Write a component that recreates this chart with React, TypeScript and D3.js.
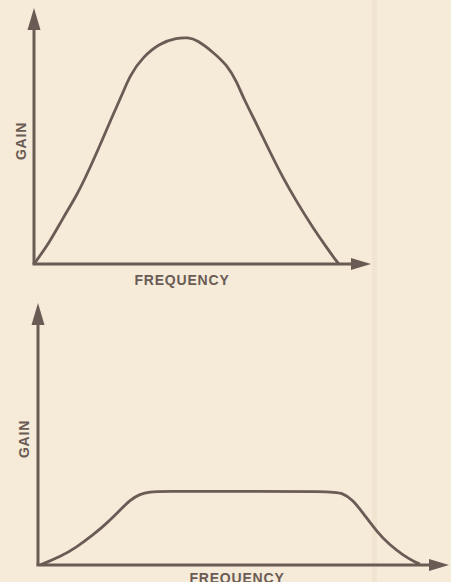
import { useEffect, useRef } from "react";
import * as d3 from "d3";

// band-pass response (top)
const peakFreq = [0, 4.7, 8.6, 12.8, 16.6, 20.5, 23.4, 26.1, 28.5, 32.3, 37.4, 42.4, 45.7, 48.4, 53.1, 57.3, 60.2, 62.0, 66.2, 70.0, 73.9, 78.0, 82.8, 86.9, 89.9, 90.5];
const peakGain = [0, 8.6, 18.0, 27.0, 37.5, 49.2, 58.2, 66.0, 73.8, 80.9, 86.3, 88.3, 88.5, 87.5, 82.8, 77.7, 71.1, 65.2, 54.3, 43.8, 33.6, 24.2, 14.1, 6.3, 0.8, 0];

// flat response (bottom)
const flatFreq = [0.5, 5.4, 9.5, 13.4, 16.8, 20.0, 22.4, 24.8, 27.3, 29.7, 49.1, 71.0, 74.2, 76.6, 79.1, 82.5, 85.6, 88.8, 91.7, 92.9];
const flatGain = [0, 3.1, 6.9, 11.5, 16.0, 21.0, 24.8, 27.1, 27.9, 28.1, 28.1, 28.1, 27.5, 24.8, 19.8, 12.6, 7.6, 3.8, 1.1, 0.4];

const xLabel = "FREQUENCY";
const yLabel = "GAIN";

const W = 451;
const H = 582;
const ink = "#6a5c54";
const paper = "#f6ead9";

type Panel = {
  freq: number[];
  gain: number[];
  x0: number; x1: number;
  y0: number; y1: number;
  gainLabelX: number;
  freqLabelX: number;
  freqLabelY: number;
};

const panels: Panel[] = [
  { freq: peakFreq, gain: peakGain, x0: 34, x1: 371, y0: 264, y1: 8, gainLabelX: 26, freqLabelX: 182, freqLabelY: 285 },
  { freq: flatFreq, gain: flatGain, x0: 38, x1: 449, y0: 565, y1: 303, gainLabelX: 29, freqLabelX: 237, freqLabelY: 583 },
];

export default function App() {
  const ref = useRef<SVGSVGElement>(null);

  useEffect(() => {
    const svg = d3.select(ref.current);
    svg.selectAll("*").remove();

    svg.append("rect").attr("width", W).attr("height", H).attr("fill", paper);
    // page fold
    svg.append("rect").attr("x", 372).attr("y", 0).attr("width", 5).attr("height", H).attr("fill", "#f1e4d1");

    panels.forEach(p => {
      const x = d3.scaleLinear().domain([0, 100]).range([p.x0, p.x1]);
      const y = d3.scaleLinear().domain([0, 100]).range([p.y0, p.y1]);
      const g = svg.append("g");

      // axes
      g.append("line")
        .attr("x1", x(0)).attr("y1", y(0))
        .attr("x2", x(0)).attr("y2", y(100) + 18)
        .attr("stroke", ink).attr("stroke-width", 3);
      g.append("path")
        .attr("d", `M${x(0)},${y(100)} L${x(0) - 6.5},${y(100) + 22} L${x(0) + 6.5},${y(100) + 22} Z`)
        .attr("fill", ink);
      g.append("line")
        .attr("x1", x(0) - 1.5).attr("y1", y(0))
        .attr("x2", x(100) - 18).attr("y2", y(0))
        .attr("stroke", ink).attr("stroke-width", 3);
      g.append("path")
        .attr("d", `M${x(100)},${y(0)} L${x(100) - 20},${y(0) - 6} L${x(100) - 20},${y(0) + 6} Z`)
        .attr("fill", ink);

      // curve
      const pts = p.freq.map((f, i) => [f, p.gain[i]] as [number, number]);
      const line = d3.line<[number, number]>()
        .x(d => x(d[0]))
        .y(d => y(d[1]))
        .curve(d3.curveBasis);
      g.append("path")
        .datum(pts)
        .attr("d", line)
        .attr("fill", "none")
        .attr("stroke", ink)
        .attr("stroke-width", 2.8)
        .attr("stroke-linejoin", "round");

      // labels
      const midY = (p.y0 + p.y1) / 2 + 5;
      g.append("text")
        .attr("transform", `translate(${p.gainLabelX},${midY}) rotate(-90)`)
        .attr("text-anchor", "middle")
        .attr("font-family", "'Liberation Sans', Arial, sans-serif")
        .attr("font-weight", "bold")
        .attr("font-size", 14)
        .attr("letter-spacing", 0.8)
        .attr("fill", ink)
        .text(yLabel);
      g.append("text")
        .attr("x", p.freqLabelX)
        .attr("y", p.freqLabelY)
        .attr("text-anchor", "middle")
        .attr("font-family", "'Liberation Sans', Arial, sans-serif")
        .attr("font-weight", "bold")
        .attr("font-size", 14)
        .attr("letter-spacing", 0.8)
        .attr("fill", ink)
        .text(xLabel);
    });
  }, []);

  return (
    <svg
      ref={ref}
      width={W}
      height={H}
      style={{ position: "fixed", left: 0, top: 0, display: "block" }}
    />
  );
}
